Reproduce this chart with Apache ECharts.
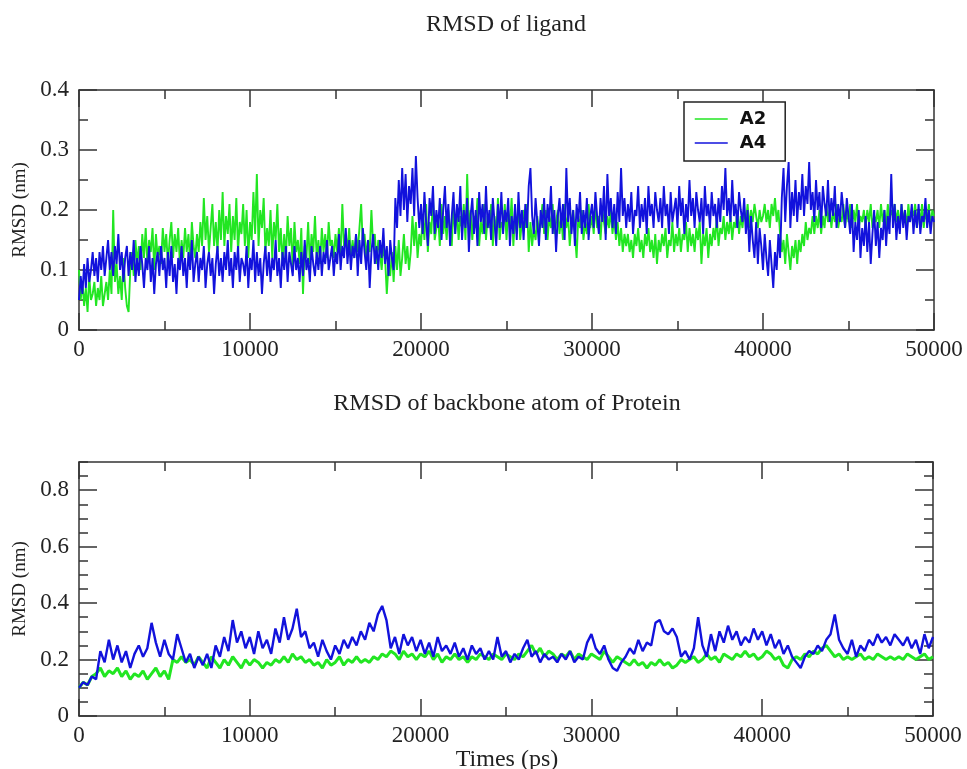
<!DOCTYPE html>
<html>
<head>
<meta charset="utf-8">
<script src="https://cdn.jsdelivr.net/npm/echarts@6/dist/echarts.min.js"></script>
<style>
html,body{margin:0;padding:0;background:#fff;}
#chart{width:967px;height:769px;}
</style>
</head>
<body>
<div id="chart"></div>
<script>
// ---------------- DATA ----------------
const seriesNames = ['A2', 'A4'];
const xTickLabels = [0, 10000, 20000, 30000, 40000, 50000];
const ligandYTicks = [0, 0.1, 0.2, 0.3, 0.4];
const backboneYTicks = [0, 0.2, 0.4, 0.6, 0.8];

// RMSD of ligand, sampled every 100 ps (0..50000), one row = 1000 ps
const ligandStepPs = 100;
const ligandA2 = [
0.10,0.05,0.08,0.04,0.07,0.03,0.09,0.05,0.06,0.08,
0.04,0.07,0.05,0.09,0.04,0.06,0.08,0.05,0.10,0.06,
0.20,0.08,0.11,0.06,0.09,0.05,0.12,0.07,0.04,0.03,
0.10,0.13,0.09,0.15,0.11,0.14,0.10,0.16,0.12,0.17,
0.11,0.15,0.13,0.17,0.10,0.16,0.12,0.14,0.11,0.17,
0.13,0.16,0.11,0.15,0.18,0.12,0.16,0.13,0.17,0.11,
0.15,0.12,0.17,0.13,0.16,0.11,0.18,0.14,0.12,0.16,
0.13,0.18,0.14,0.22,0.15,0.19,0.13,0.17,0.21,0.14,
0.18,0.13,0.20,0.15,0.23,0.14,0.19,0.16,0.21,0.13,
0.19,0.15,0.22,0.13,0.18,0.16,0.21,0.14,0.20,0.12,
0.18,0.15,0.23,0.16,0.26,0.14,0.20,0.17,0.22,0.13,
0.17,0.14,0.20,0.12,0.18,0.15,0.21,0.13,0.17,0.11,
0.16,0.12,0.19,0.14,0.17,0.10,0.18,0.13,0.15,0.11,
0.17,0.06,0.14,0.12,0.18,0.11,0.16,0.13,0.19,0.12,
0.15,0.11,0.17,0.13,0.16,0.12,0.18,0.14,0.15,0.12,
0.16,0.13,0.17,0.12,0.21,0.14,0.16,0.13,0.17,0.12,
0.15,0.12,0.16,0.13,0.17,0.21,0.14,0.16,0.12,0.15,
0.13,0.20,0.14,0.16,0.11,0.15,0.13,0.10,0.14,0.12,
0.06,0.11,0.09,0.13,0.08,0.14,0.10,0.15,0.09,0.12,
0.16,0.11,0.14,0.10,0.13,0.19,0.14,0.18,0.12,0.16,
0.14,0.19,0.15,0.21,0.13,0.18,0.16,0.22,0.15,0.17,
0.19,0.14,0.21,0.16,0.19,0.15,0.20,0.17,0.14,0.21,
0.16,0.20,0.15,0.19,0.17,0.21,0.15,0.26,0.17,0.20,
0.15,0.19,0.17,0.22,0.14,0.18,0.16,0.21,0.15,0.19,
0.17,0.21,0.14,0.19,0.16,0.22,0.15,0.18,0.17,0.21,
0.15,0.20,0.17,0.22,0.14,0.19,0.16,0.21,0.15,0.18,
0.20,0.17,0.21,0.13,0.18,0.14,0.17,0.15,0.19,0.16,
0.18,0.21,0.16,0.20,0.15,0.19,0.17,0.21,0.16,0.18,
0.20,0.16,0.19,0.15,0.21,0.17,0.19,0.14,0.18,0.20,
0.16,0.12,0.19,0.17,0.20,0.15,0.18,0.16,0.21,0.17,
0.19,0.16,0.21,0.17,0.19,0.15,0.20,0.18,0.16,0.19,
0.17,0.20,0.16,0.19,0.15,0.18,0.14,0.17,0.13,0.16,
0.14,0.16,0.13,0.15,0.12,0.16,0.14,0.17,0.13,0.15,
0.12,0.16,0.14,0.17,0.13,0.15,0.12,0.16,0.11,0.15,
0.13,0.16,0.14,0.17,0.12,0.15,0.14,0.18,0.13,0.16,
0.14,0.17,0.13,0.16,0.15,0.18,0.13,0.17,0.14,0.16,
0.13,0.17,0.15,0.18,0.11,0.16,0.14,0.17,0.12,0.16,
0.14,0.17,0.15,0.19,0.14,0.17,0.16,0.19,0.15,0.18,
0.16,0.19,0.15,0.18,0.17,0.20,0.16,0.19,0.17,0.20,
0.18,0.21,0.17,0.20,0.18,0.21,0.19,0.17,0.20,0.18,
0.19,0.21,0.18,0.20,0.17,0.21,0.19,0.22,0.18,0.20,
0.16,0.13,0.15,0.11,0.16,0.13,0.10,0.14,0.12,0.15,
0.11,0.15,0.13,0.16,0.14,0.18,0.15,0.17,0.16,0.19,
0.16,0.19,0.17,0.20,0.16,0.19,0.17,0.21,0.18,0.20,
0.17,0.20,0.18,0.21,0.17,0.19,0.18,0.21,0.17,0.20,
0.18,0.21,0.17,0.20,0.18,0.21,0.17,0.19,0.18,0.20,
0.17,0.20,0.18,0.21,0.17,0.19,0.18,0.20,0.17,0.21,
0.18,0.20,0.17,0.21,0.18,0.20,0.19,0.21,0.18,0.20,
0.17,0.21,0.18,0.20,0.17,0.21,0.18,0.20,0.19,0.21,
0.17,0.20,0.18,0.21,0.17,0.20,0.18,0.21,0.17,0.20,
0.19
];
const ligandA4 = [
0.05,0.09,0.06,0.11,0.07,0.12,0.08,0.10,0.13,0.09,
0.12,0.08,0.13,0.10,0.14,0.09,0.12,0.15,0.10,0.13,
0.09,0.14,0.11,0.16,0.10,0.13,0.08,0.12,0.14,0.09,
0.13,0.10,0.15,0.08,0.12,0.09,0.14,0.11,0.07,0.12,
0.10,0.14,0.08,0.12,0.06,0.11,0.13,0.09,0.14,0.10,
0.12,0.07,0.13,0.09,0.14,0.08,0.11,0.06,0.12,0.10,
0.14,0.09,0.12,0.07,0.13,0.10,0.15,0.08,0.11,0.13,
0.08,0.12,0.10,0.14,0.07,0.11,0.13,0.09,0.12,0.06,
0.11,0.14,0.09,0.12,0.08,0.13,0.10,0.15,0.09,0.12,
0.07,0.13,0.10,0.14,0.08,0.12,0.11,0.09,0.14,0.07,
0.12,0.10,0.15,0.08,0.13,0.09,0.12,0.06,0.11,0.14,
0.09,0.13,0.08,0.12,0.10,0.15,0.09,0.12,0.07,0.13,
0.10,0.14,0.08,0.13,0.11,0.09,0.14,0.10,0.12,0.08,
0.13,0.09,0.15,0.10,0.12,0.08,0.14,0.11,0.09,0.13,
0.10,0.14,0.09,0.13,0.11,0.15,0.10,0.12,0.14,0.09,
0.13,0.11,0.16,0.10,0.14,0.12,0.17,0.11,0.15,0.10,
0.14,0.12,0.16,0.09,0.15,0.11,0.17,0.13,0.10,0.15,
0.07,0.13,0.16,0.11,0.14,0.10,0.15,0.12,0.17,0.11,
0.14,0.09,0.15,0.12,0.10,0.22,0.17,0.25,0.19,0.27,
0.20,0.26,0.18,0.24,0.21,0.27,0.19,0.29,0.22,0.17,
0.21,0.16,0.23,0.18,0.14,0.22,0.19,0.24,0.16,0.20,
0.17,0.22,0.15,0.20,0.24,0.17,0.21,0.14,0.19,0.23,
0.16,0.21,0.18,0.24,0.15,0.20,0.17,0.22,0.13,0.19,
0.22,0.16,0.20,0.14,0.23,0.18,0.21,0.16,0.24,0.17,
0.20,0.15,0.22,0.18,0.14,0.21,0.17,0.23,0.16,0.20,
0.18,0.22,0.14,0.19,0.16,0.21,0.15,0.23,0.17,0.20,
0.15,0.21,0.17,0.24,0.27,0.19,0.16,0.22,0.18,0.14,
0.20,0.17,0.22,0.15,0.21,0.18,0.24,0.16,0.20,0.13,
0.19,0.22,0.17,0.21,0.15,0.27,0.18,0.22,0.16,0.20,
0.14,0.21,0.18,0.23,0.16,0.20,0.17,0.22,0.15,0.19,
0.21,0.17,0.23,0.19,0.16,0.22,0.18,0.24,0.15,0.26,
0.19,0.22,0.17,0.21,0.16,0.23,0.18,0.27,0.19,0.22,
0.17,0.21,0.18,0.23,0.16,0.20,0.19,0.24,0.17,0.21,
0.18,0.22,0.16,0.24,0.19,0.21,0.17,0.23,0.20,0.18,
0.22,0.17,0.24,0.19,0.21,0.16,0.23,0.18,0.20,0.22,
0.17,0.24,0.19,0.22,0.16,0.21,0.18,0.25,0.19,0.22,
0.17,0.23,0.20,0.18,0.22,0.16,0.24,0.19,0.21,0.17,
0.23,0.19,0.21,0.17,0.22,0.18,0.24,0.20,0.27,0.19,
0.22,0.18,0.25,0.19,0.21,0.17,0.23,0.20,0.18,0.22,
0.16,0.20,0.13,0.19,0.15,0.12,0.18,0.11,0.17,0.14,
0.10,0.16,0.12,0.09,0.15,0.11,0.07,0.13,0.10,0.16,
0.12,0.22,0.27,0.18,0.24,0.28,0.17,0.23,0.19,0.25,
0.18,0.23,0.20,0.26,0.19,0.24,0.21,0.28,0.20,0.23,
0.18,0.25,0.20,0.23,0.17,0.24,0.21,0.19,0.25,0.18,
0.22,0.19,0.24,0.17,0.21,0.18,0.23,0.20,0.17,0.22,
0.19,0.16,0.21,0.13,0.18,0.15,0.20,0.12,0.17,0.14,
0.19,0.13,0.18,0.11,0.16,0.20,0.14,0.18,0.12,0.17,
0.15,0.20,0.14,0.19,0.16,0.26,0.17,0.21,0.15,0.19,
0.16,0.21,0.17,0.20,0.15,0.19,0.18,0.21,0.16,0.20,
0.17,0.21,0.16,0.19,0.18,0.22,0.17,0.20,0.16,0.19,
0.18
];

// RMSD of backbone atom of protein, sampled every 250 ps (0..50000), one row = 2000 ps
const backboneStepPs = 250;
const backboneA2 = [
0.10,0.12,0.11,0.14,0.15,0.17,0.14,0.16,
0.15,0.17,0.14,0.16,0.13,0.15,0.14,0.16,
0.13,0.15,0.17,0.14,0.16,0.13,0.20,0.19,
0.21,0.19,0.20,0.18,0.21,0.19,0.17,0.21,
0.19,0.17,0.20,0.18,0.21,0.19,0.17,0.20,
0.18,0.20,0.19,0.17,0.19,0.18,0.20,0.19,
0.21,0.19,0.22,0.20,0.21,0.19,0.20,0.18,
0.19,0.17,0.20,0.18,0.19,0.21,0.18,0.20,
0.19,0.21,0.19,0.20,0.19,0.21,0.20,0.22,
0.21,0.23,0.22,0.20,0.23,0.21,0.22,0.20,
0.22,0.21,0.23,0.20,0.22,0.19,0.21,0.20,
0.22,0.20,0.21,0.19,0.21,0.20,0.22,0.21,
0.20,0.22,0.21,0.20,0.22,0.21,0.20,0.22,
0.21,0.23,0.25,0.22,0.24,0.21,0.23,0.22,
0.20,0.22,0.21,0.23,0.20,0.22,0.21,0.20,
0.22,0.21,0.20,0.23,0.21,0.19,0.21,0.20,
0.19,0.18,0.20,0.18,0.19,0.17,0.19,0.18,
0.20,0.18,0.19,0.17,0.18,0.20,0.19,0.20,
0.21,0.19,0.20,0.22,0.20,0.21,0.19,0.22,
0.21,0.20,0.22,0.21,0.23,0.21,0.22,0.20,
0.21,0.23,0.22,0.20,0.21,0.18,0.17,0.20,
0.21,0.20,0.22,0.21,0.23,0.22,0.24,0.25,
0.23,0.21,0.22,0.20,0.21,0.20,0.21,0.22,
0.20,0.21,0.20,0.22,0.21,0.20,0.21,0.20,
0.21,0.20,0.22,0.21,0.20,0.21,0.22,0.20,0.21
];
const backboneA4 = [
0.10,0.12,0.11,0.14,0.13,0.23,0.19,0.27,
0.20,0.25,0.19,0.23,0.17,0.22,0.25,0.21,
0.24,0.33,0.26,0.21,0.27,0.22,0.20,0.29,
0.24,0.19,0.22,0.17,0.21,0.18,0.22,0.17,
0.25,0.21,0.28,0.23,0.34,0.26,0.30,0.24,
0.28,0.22,0.30,0.24,0.27,0.22,0.31,0.26,
0.35,0.27,0.31,0.38,0.28,0.30,0.24,0.26,
0.21,0.27,0.23,0.20,0.25,0.22,0.27,0.24,
0.28,0.25,0.30,0.27,0.33,0.30,0.36,0.39,
0.34,0.24,0.28,0.22,0.29,0.25,0.28,0.23,
0.27,0.22,0.26,0.21,0.28,0.23,0.25,0.22,
0.26,0.21,0.24,0.20,0.25,0.22,0.24,0.20,
0.23,0.20,0.28,0.21,0.23,0.19,0.22,0.20,
0.24,0.27,0.21,0.23,0.19,0.22,0.20,0.21,
0.19,0.22,0.20,0.23,0.19,0.21,0.20,0.26,
0.29,0.24,0.22,0.25,0.20,0.17,0.16,0.19,
0.21,0.24,0.22,0.27,0.23,0.26,0.25,0.33,
0.34,0.30,0.29,0.31,0.28,0.21,0.23,0.20,
0.24,0.35,0.25,0.21,0.29,0.23,0.30,0.26,
0.32,0.27,0.30,0.25,0.28,0.26,0.31,0.27,
0.30,0.25,0.29,0.24,0.27,0.22,0.25,0.21,
0.19,0.17,0.21,0.23,0.22,0.25,0.23,0.27,
0.29,0.36,0.27,0.24,0.22,0.27,0.21,0.25,
0.23,0.27,0.25,0.29,0.26,0.28,0.25,0.29,
0.27,0.25,0.28,0.24,0.27,0.22,0.29,0.24,0.28
];

// ---------------- CHART ----------------
const GREEN = '#22e622';
const BLUE = '#1212dc';
const AXIS = '#333';
const SERIF = '"Liberation Serif", "Times New Roman", serif';

function pairs(values, step) { return values.map((v, i) => [i * step, v]); }
function pickLabel(list) {
  return v => { const t = list.find(x => Math.abs(x - v) < 1e-9); return t === undefined ? '' : String(t); };
}

function xAxisDef(gridIndex, position, showLabels) {
  return {
    type: 'value', gridIndex, position, min: 0, max: 50000, interval: 10000,
    axisLine: { show: true, onZero: false, lineStyle: { color: AXIS, width: 1.5 } },
    axisTick: { show: true, inside: true, length: 17, lineStyle: { color: AXIS, width: 1.5 } },
    minorTick: { show: true, splitNumber: 2, length: 9, lineStyle: { color: AXIS, width: 1.5 } },
    axisLabel: { show: showLabels, margin: 8, fontFamily: SERIF, fontSize: 23, color: '#222',
      formatter: v => xTickLabels.includes(v) ? String(v) : '' },
    splitLine: { show: false }, minorSplitLine: { show: false }
  };
}
// y axis: "major" axis carries long ticks (and labels), "minor" axis carries short ticks
function yAxisDef(gridIndex, position, max, interval, major, labels) {
  const a = {
    type: 'value', gridIndex, position, min: 0, max, interval,
    axisLine: { show: major, lineStyle: { color: AXIS, width: 1.5 } },
    axisTick: { show: true, inside: true, length: major ? 18 : 9, lineStyle: { color: AXIS, width: 1.5 } },
    minorTick: { show: false },
    axisLabel: { show: !!labels },
    splitLine: { show: false }
  };
  if (labels) {
    a.axisLabel = { show: true, margin: 10, fontFamily: SERIF, fontSize: 23, color: '#222',
      showMaxLabel: labels === backboneYTicks ? false : true, formatter: pickLabel(labels) };
    a.name = 'RMSD (nm)';
    a.nameLocation = 'middle';
    a.nameGap = 45;
    a.nameTextStyle = { fontFamily: SERIF, fontSize: 19, color: '#222' };
  }
  return a;
}

const option = {
  animation: false,
  backgroundColor: '#fff',
  grid: [
    { left: 79, top: 90, width: 855, height: 240 },
    { left: 79, top: 462, width: 854, height: 254 }
  ],
  graphic: [
    { type: 'text', x: 506, y: 25, style: { text: 'RMSD of ligand', font: '24px ' + SERIF, fill: '#222', textAlign: 'center', textVerticalAlign: 'middle' } },
    { type: 'text', x: 507, y: 404, style: { text: 'RMSD of backbone atom of Protein', font: '24px ' + SERIF, fill: '#222', textAlign: 'center', textVerticalAlign: 'middle' } },
    { type: 'text', x: 507, y: 760, style: { text: 'Times (ps)', font: '24px ' + SERIF, fill: '#222', textAlign: 'center', textVerticalAlign: 'middle' } }
  ],
  legend: {
    data: seriesNames,
    left: 684, top: 102, orient: 'vertical',
    backgroundColor: '#fff', borderColor: '#222', borderWidth: 1.5, borderRadius: 0,
    padding: [8, 19, 9, 10], itemGap: 6, itemWidth: 33, itemHeight: 18,
    itemStyle: { opacity: 0 },
    lineStyle: { width: 1.5 },
    textStyle: { fontFamily: '"DejaVu Sans", sans-serif', fontWeight: 'bold', fontSize: 18, color: '#111', lineHeight: 18, padding: [0, 0, 0, 7] }
  },
  xAxis: [
    xAxisDef(0, 'bottom', true),
    xAxisDef(0, 'top', false),
    xAxisDef(1, 'bottom', true),
    xAxisDef(1, 'top', false)
  ],
  yAxis: [
    yAxisDef(0, 'left', 0.4, 0.1, true, ligandYTicks),   // 0
    yAxisDef(0, 'left', 0.4, 0.05, false, null),         // 1
    yAxisDef(0, 'right', 0.4, 0.1, true, null),          // 2
    yAxisDef(0, 'right', 0.4, 0.05, false, null),        // 3
    yAxisDef(1, 'left', 0.9, 0.2, true, backboneYTicks), // 4
    yAxisDef(1, 'left', 0.9, 0.05, false, null),         // 5
    yAxisDef(1, 'right', 0.9, 0.2, true, null),          // 6
    yAxisDef(1, 'right', 0.9, 0.05, false, null)         // 7
  ],
  series: [
    { name: 'A2', type: 'line', xAxisIndex: 0, yAxisIndex: 0, symbol: 'none',
      lineStyle: { color: GREEN, width: 1.9 }, itemStyle: { color: GREEN },
      data: pairs(ligandA2, ligandStepPs) },
    { name: 'A4', type: 'line', xAxisIndex: 0, yAxisIndex: 0, symbol: 'none',
      lineStyle: { color: BLUE, width: 1.9 }, itemStyle: { color: BLUE },
      data: pairs(ligandA4, ligandStepPs) },
    { name: 'A2', type: 'line', xAxisIndex: 2, yAxisIndex: 4, symbol: 'none',
      lineStyle: { color: GREEN, width: 3 }, itemStyle: { color: GREEN },
      data: pairs(backboneA2, backboneStepPs) },
    { name: 'A4', type: 'line', xAxisIndex: 2, yAxisIndex: 4, symbol: 'none',
      lineStyle: { color: BLUE, width: 2.4 }, itemStyle: { color: BLUE },
      data: pairs(backboneA4, backboneStepPs) }
  ]
};

const chart = echarts.init(document.getElementById('chart'), null, { renderer: 'canvas' });
chart.setOption(option);
</script>
</body>
</html>
